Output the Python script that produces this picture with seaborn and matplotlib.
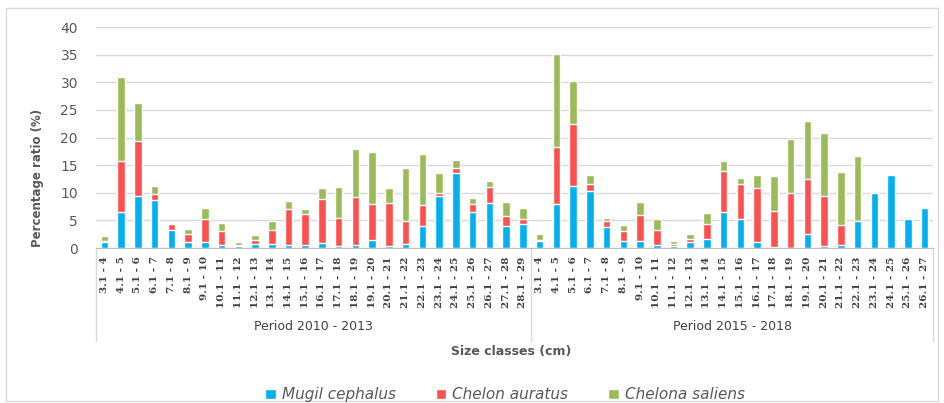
import pandas as pd
import matplotlib.pyplot as plt
import seaborn as sns
from matplotlib.patches import Patch, Rectangle
import matplotlib.transforms as mtransforms

# Size classes for the two periods
sizes_2010 = ["3.1 - 4", "4.1 - 5", "5.1 - 6", "6.1 - 7", "7.1 - 8", "8.1 - 9",
              "9.1 - 10", "10.1 - 11", "11.1 - 12", "12.1 - 13", "13.1 - 14",
              "14.1 - 15", "15.1 - 16", "16.1 - 17", "17.1 - 18", "18.1 - 19",
              "19.1 - 20", "20.1 - 21", "21.1 - 22", "22.1 - 23", "23.1 - 24",
              "24.1 - 25", "25.1 - 26", "26.1 - 27", "27.1 - 28", "28.1 - 29"]
sizes_2015 = ["3.1 - 4", "4.1 - 5", "5.1 - 6", "6.1 - 7", "7.1 - 8", "8.1 - 9",
              "9.1 - 10", "10.1 - 11", "11.1 - 12", "12.1 - 13", "13.1 - 14",
              "14.1 - 15", "15.1 - 16", "16.1 - 17", "17.1 - 18", "18.1 - 19",
              "19.1 - 20", "20.1 - 21", "21.1 - 22", "22.1 - 23", "23.1 - 24",
              "24.1 - 25", "25.1 - 26", "26.1 - 27"]
periods = ["Period 2010 - 2013", "Period 2015 - 2018"]

# Percentages per species
mugil_2010 = [1.0, 6.6, 9.5, 8.6, 3.3, 1.0, 1.0, 0.5, 0.3, 0.75, 0.75, 0.6, 0.5,
              0.95, 0.3, 0.5, 1.45, 0.3, 0.7, 4.05, 9.45, 13.5, 6.5, 8.15, 3.9, 4.35]
auratus_2010 = [0.3, 9.1, 9.85, 1.1, 1.1, 1.6, 4.2, 2.5, 0.3, 0.65, 2.55, 6.4, 5.7,
                7.85, 5.15, 8.75, 6.45, 7.8, 4.25, 3.65, 0.45, 0.9, 1.4, 2.85, 1.85, 0.9]
saliens_2010 = [0.8, 15.3, 6.95, 1.55, 0.2, 0.85, 2.1, 1.5, 0.55, 0.95, 1.65, 1.5, 0.8,
                2.0, 5.6, 8.7, 9.4, 2.7, 9.45, 9.35, 3.6, 1.6, 1.15, 1.15, 2.6, 2.0]

mugil_2015 = [1.2, 7.9, 11.25, 10.4, 3.85, 1.2, 1.2, 0.55, 0.3, 1.1, 1.6, 6.6, 5.2,
              1.15, 0.1, 0.05, 2.55, 0.3, 0.55, 4.95, 9.9, 13.3, 5.2, 7.25]
auratus_2015 = [0.25, 10.3, 11.2, 1.25, 1.1, 1.8, 4.7, 2.7, 0.4, 0.6, 2.75, 7.3, 6.3,
                9.65, 6.65, 9.85, 9.85, 9.2, 3.55, 0.0, 0.0, 0.0, 0.0, 0.0]
saliens_2015 = [1.15, 17.0, 7.85, 1.6, 0.5, 1.1, 2.45, 1.95, 0.6, 0.85, 1.95, 1.8, 1.1,
                2.5, 6.3, 9.85, 10.5, 11.4, 9.6, 11.65, 0.0, 0.0, 0.0, 0.0]

species = ["Mugil cephalus", "Chelon auratus", "Chelona saliens"]
colors = ["#00B0F0", "#FF5050", "#9BBB59"]

# -------------------------
# Build table
# -------------------------
df = pd.DataFrame({
    "size": sizes_2010 + sizes_2015,
    "period": [periods[0]] * len(sizes_2010) + [periods[1]] * len(sizes_2015),
    "mugil": mugil_2010 + mugil_2015,
    "auratus": auratus_2010 + auratus_2015,
    "saliens": saliens_2010 + saliens_2015,
})
df["pos"] = range(len(df))
df["top_blue"] = df["mugil"]
df["top_red"] = df["mugil"] + df["auratus"]
df["top_green"] = df["top_red"] + df["saliens"]

# -------------------------
# Stacked bar chart
# -------------------------
sns.set_style("white")
fig = plt.figure(figsize=(9.44, 4.03), dpi=100)
ax = fig.add_axes([0.1017, 0.3846, 0.8866, 0.5484])

for col, c in zip(["top_green", "top_red", "top_blue"], colors[::-1]):
    sns.barplot(data=df, x="pos", y=col, color=c, width=0.45,
                errorbar=None, ax=ax, saturation=1)

n = len(df)
ax.set_xlim(-0.5, n - 0.5)
ax.set_ylim(0, 40)
ax.set_yticks(range(0, 41, 5))
ax.tick_params(axis="y", labelsize=10, labelcolor="#595959", length=0, pad=13)
ax.yaxis.grid(True, color="#D9D9D9", linewidth=1)
ax.set_axisbelow(True)
for s in ["top", "right", "left"]:
    ax.spines[s].set_visible(False)
ax.spines["bottom"].set_color("#BFBFBF")

ax.set_xticks(df["pos"])
ax.set_xticklabels(df["size"], rotation=90, va="top", ha="center",
                   fontsize=7.5, family="DejaVu Serif", fontweight="bold",
                   color="#404040")
ax.tick_params(axis="x", length=0, pad=6)
ax.set_xlabel("")
ax.set_ylabel("")
fig.text(0.04, 1 - 178 / 403, "Percentage ratio (%)", rotation=90, ha="center",
         va="center", fontsize=8.5, fontweight="bold", color="#595959")

# group separators and period labels
trans = mtransforms.blended_transform_factory(ax.transData, ax.transAxes)
n1 = len(sizes_2010)
for xb in [-0.5, n1 - 0.5, n - 0.5]:
    ax.plot([xb, xb], [0, -0.42], transform=trans, color="#D9D9D9",
            linewidth=1, clip_on=False)
ax.text((n1 - 1) / 2, -0.355, periods[0], transform=trans, ha="center",
        va="center", fontsize=9, color="#404040")
ax.text(n1 + (n - n1 - 1) / 2, -0.355, periods[1], transform=trans, ha="center",
        va="center", fontsize=9, color="#404040")

fig.text(0.542, 0.127, "Size classes (cm)", ha="center", va="center",
         fontsize=9, fontweight="bold", color="#595959")

handles = [Patch(facecolor=c, label=s) for c, s in zip(colors, species)]
fig.legend(handles=handles, loc="center", bbox_to_anchor=(0.535, 0.02), ncol=3,
           frameon=False, handlelength=0.7, handleheight=0.7, handletextpad=0.4,
           columnspacing=2.6, prop={"style": "italic", "size": 11},
           labelcolor="#595959")

fig.add_artist(Rectangle((0.006, 0.005), 0.988, 0.975, transform=fig.transFigure,
                         fill=False, edgecolor="#D9D9D9", linewidth=1))

plt.savefig("out.png", dpi=100)
